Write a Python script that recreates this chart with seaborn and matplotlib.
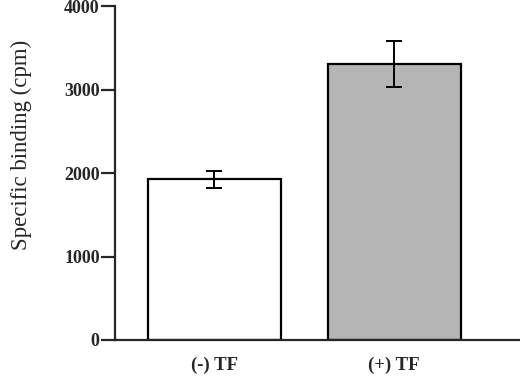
import matplotlib
matplotlib.use('Agg')
import matplotlib.pyplot as plt
import seaborn as sns
import pandas as pd

categories = ['(-) TF', '(+) TF']
means = [1925, 3305]
errors = [105, 275]
fills = ['#ffffff', '#b5b5b5']

sns.set_style('ticks')
plt.rcParams['font.family'] = ['Liberation Serif', 'DejaVu Serif']

df = pd.DataFrame({'group': categories, 'binding': means})

fig = plt.figure(figsize=(5.2, 3.82), dpi=100)
ax = fig.add_axes([0.221, 0.110, 0.779, 0.874])

sns.barplot(data=df, x='group', y='binding', hue='group', palette=fills,
            edgecolor='black', linewidth=1.6, width=0.74, legend=False,
            errorbar=None, ax=ax)
ax.errorbar(range(len(categories)), means, yerr=errors, fmt='none',
            ecolor='black', elinewidth=1.4, capsize=5.5, capthick=1.4, zorder=5)

ax.set_ylim(0, 4000)
ax.set_xlim(-0.553, 1.70)
ax.set_yticks([0, 1000, 2000, 3000, 4000])
ax.set_yticklabels(['0', '1000', '2000', '3000', '4000'], fontweight='bold', fontsize=13)
ax.set_xticks([0, 1])
ax.set_xticklabels(categories, fontweight='bold', fontsize=13.5)
ax.tick_params(axis='y', length=10, width=1.6, direction='out', pad=1)
ax.tick_params(axis='x', length=0, pad=12)
ax.set_xlabel('')
ax.set_ylabel('Specific binding (cpm)', fontsize=16.5)
ax.yaxis.set_label_coords(-0.205, 0.584)

sns.despine(ax=ax)
ax.spines['left'].set_linewidth(1.6)
ax.spines['bottom'].set_linewidth(1.6)

fig.savefig('out.png', dpi=100)
